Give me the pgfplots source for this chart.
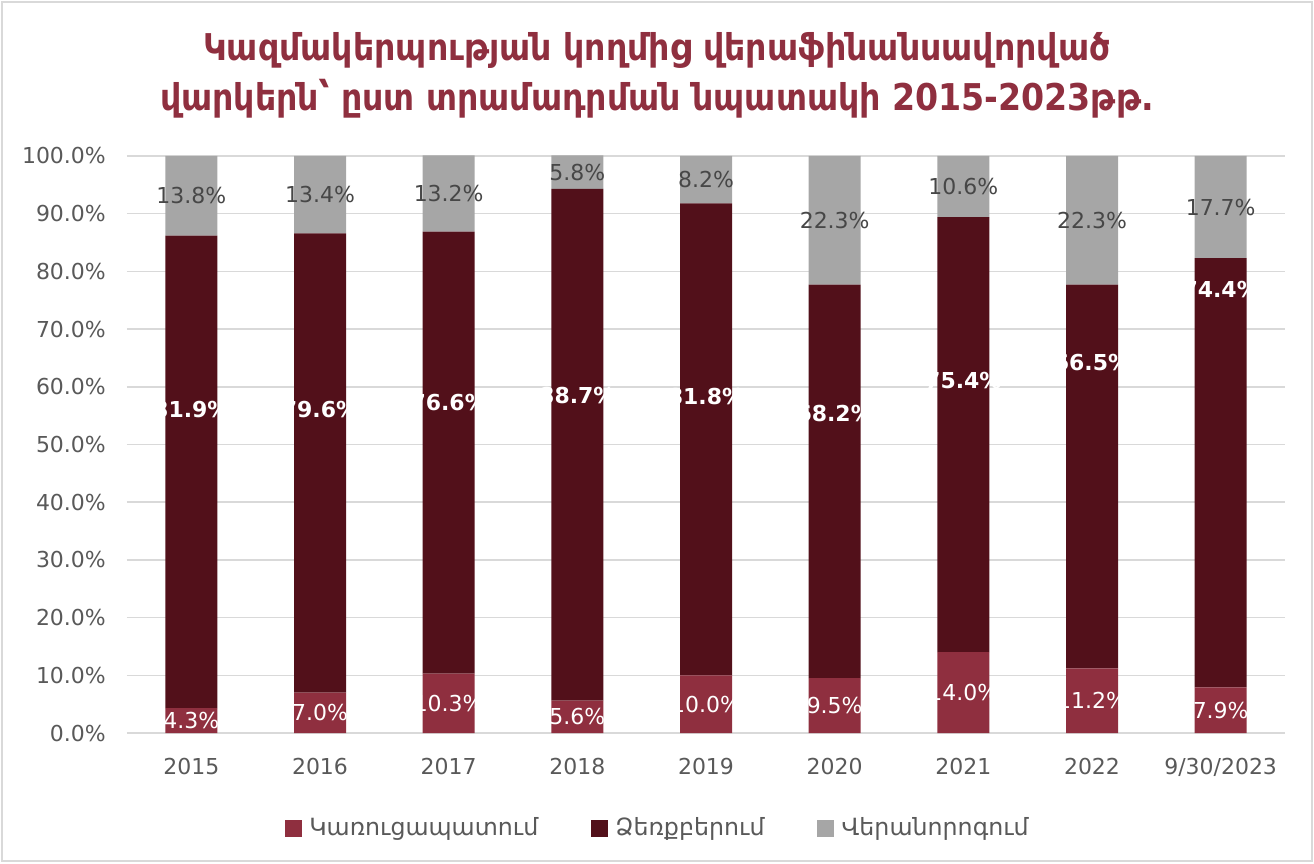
\documentclass[border=0pt]{standalone}
\usepackage{fontspec}
\setmainfont{DejaVu Sans}
\newfontfamily\titlefont{DejaVu Sans Condensed}
\usepackage{pgfplots}
\pgfplotsset{compat=1.18}

\definecolor{cbuild}{HTML}{8F2F3F}
\definecolor{cbuy}{HTML}{52101A}
\definecolor{crenov}{HTML}{A6A6A6}
\definecolor{ctick}{HTML}{595959}
\definecolor{cgrid}{HTML}{D9D9D9}

\begin{document}
\begin{tikzpicture}[font=\fontsize{12.5}{15}\selectfont]
\path[use as bounding box] (-2.54,-2.6) rectangle (23.74,14.66);
\draw[cgrid, line width=0.04cm] (-2.50,-2.56) rectangle (23.70,14.62);

\begin{axis}[
  at={(0,0)}, anchor=south west,
  scale only axis,
  width=23.16cm, height=11.54cm,
  ybar stacked,
  bar width=1.04cm,
  xmin=-0.5, xmax=8.5,
  ymin=0, ymax=100,
  enlarge y limits=false,
  clip=false,
  xtick={0,...,8},
  xticklabels={2015,2016,2017,2018,2019,2020,2021,2022,9/30/2023},
  ytick={0,10,...,100},
  yticklabel={\pgfmathprintnumber[fixed,fixed zerofill,precision=1]{\tick}\%},
  tick label style={color=ctick, font=\fontsize{12.5}{15}\selectfont},
  /pgf/number format/assume math mode=true,
  yticklabel style={xshift=-0.3cm},
  xticklabel style={yshift=-0.37cm},
  major tick length=0pt,
  axis line style={draw=none},
  ymajorgrids,
  grid style={cgrid, line width=0.03cm},
  nodes near coords={\pgfmathprintnumber[fixed,fixed zerofill,precision=1,assume math mode=true]{\pgfplotspointmeta}\%},
  nodes near coords align=center,
  every node near coord/.append style={font=\fontsize{12.5}{15}\selectfont},
  legend style={at={(0.459,-0.165)}, anchor=center, draw=none, fill=none,
    legend columns=-1, text=ctick, font=\fontsize{13.5}{16}\selectfont,
    /tikz/every odd column/.append style={column sep=0.08cm},
    /tikz/every even column/.append style={column sep=0.98cm}},
  legend image code/.code={\fill[#1, draw=none] (0cm,-0.17cm) rectangle (0.34cm,0.17cm);},
]
\addplot[fill=cbuild, draw=none, every node near coord/.append style={text=white}] coordinates {
  (0,4.3) (1,7.0) (2,10.3) (3,5.6) (4,10.0) (5,9.5) (6,14.0) (7,11.2) (8,7.9)};
% dy: upward offset (px) of each label, as placed in the original chart
\addplot[fill=cbuy, draw=none,
  visualization depends on={\thisrow{dy} \as \dy},
  every node near coord/.append style={text=white, font=\fontsize{12.5}{15}\selectfont\bfseries, yshift=0.02cm*\dy}]
  table[x=x, y=y, row sep=\\] {
  x y dy \\
  0 81.9 62 \\
  1 79.6 53 \\
  2 76.6 50 \\
  3 88.7 49 \\
  4 81.8 43 \\
  5 68.2 68 \\
  6 75.4 54 \\
  7 66.5 114 \\
  8 74.4 183 \\
};
\addplot[fill=crenov, draw=none, every node near coord/.append style={text=ctick!80!black}] coordinates {
  (0,13.8) (1,13.4) (2,13.2) (3,5.8) (4,8.2) (5,22.3) (6,10.6) (7,22.3) (8,17.7)};
\legend{Կառուցապատում, Ձեռքբերում, Վերանորոգում}
\end{axis}

\node[align=center, text=cbuild, font=\titlefont\fontsize{21}{28.5}\selectfont\bfseries] at (10.6,13.15)
  {Կազմակերպության կողմից վերաֆինանսավորված\\վարկերն՝ ըստ տրամադրման նպատակի 2015-2023թթ.};
\end{tikzpicture}
\end{document}
